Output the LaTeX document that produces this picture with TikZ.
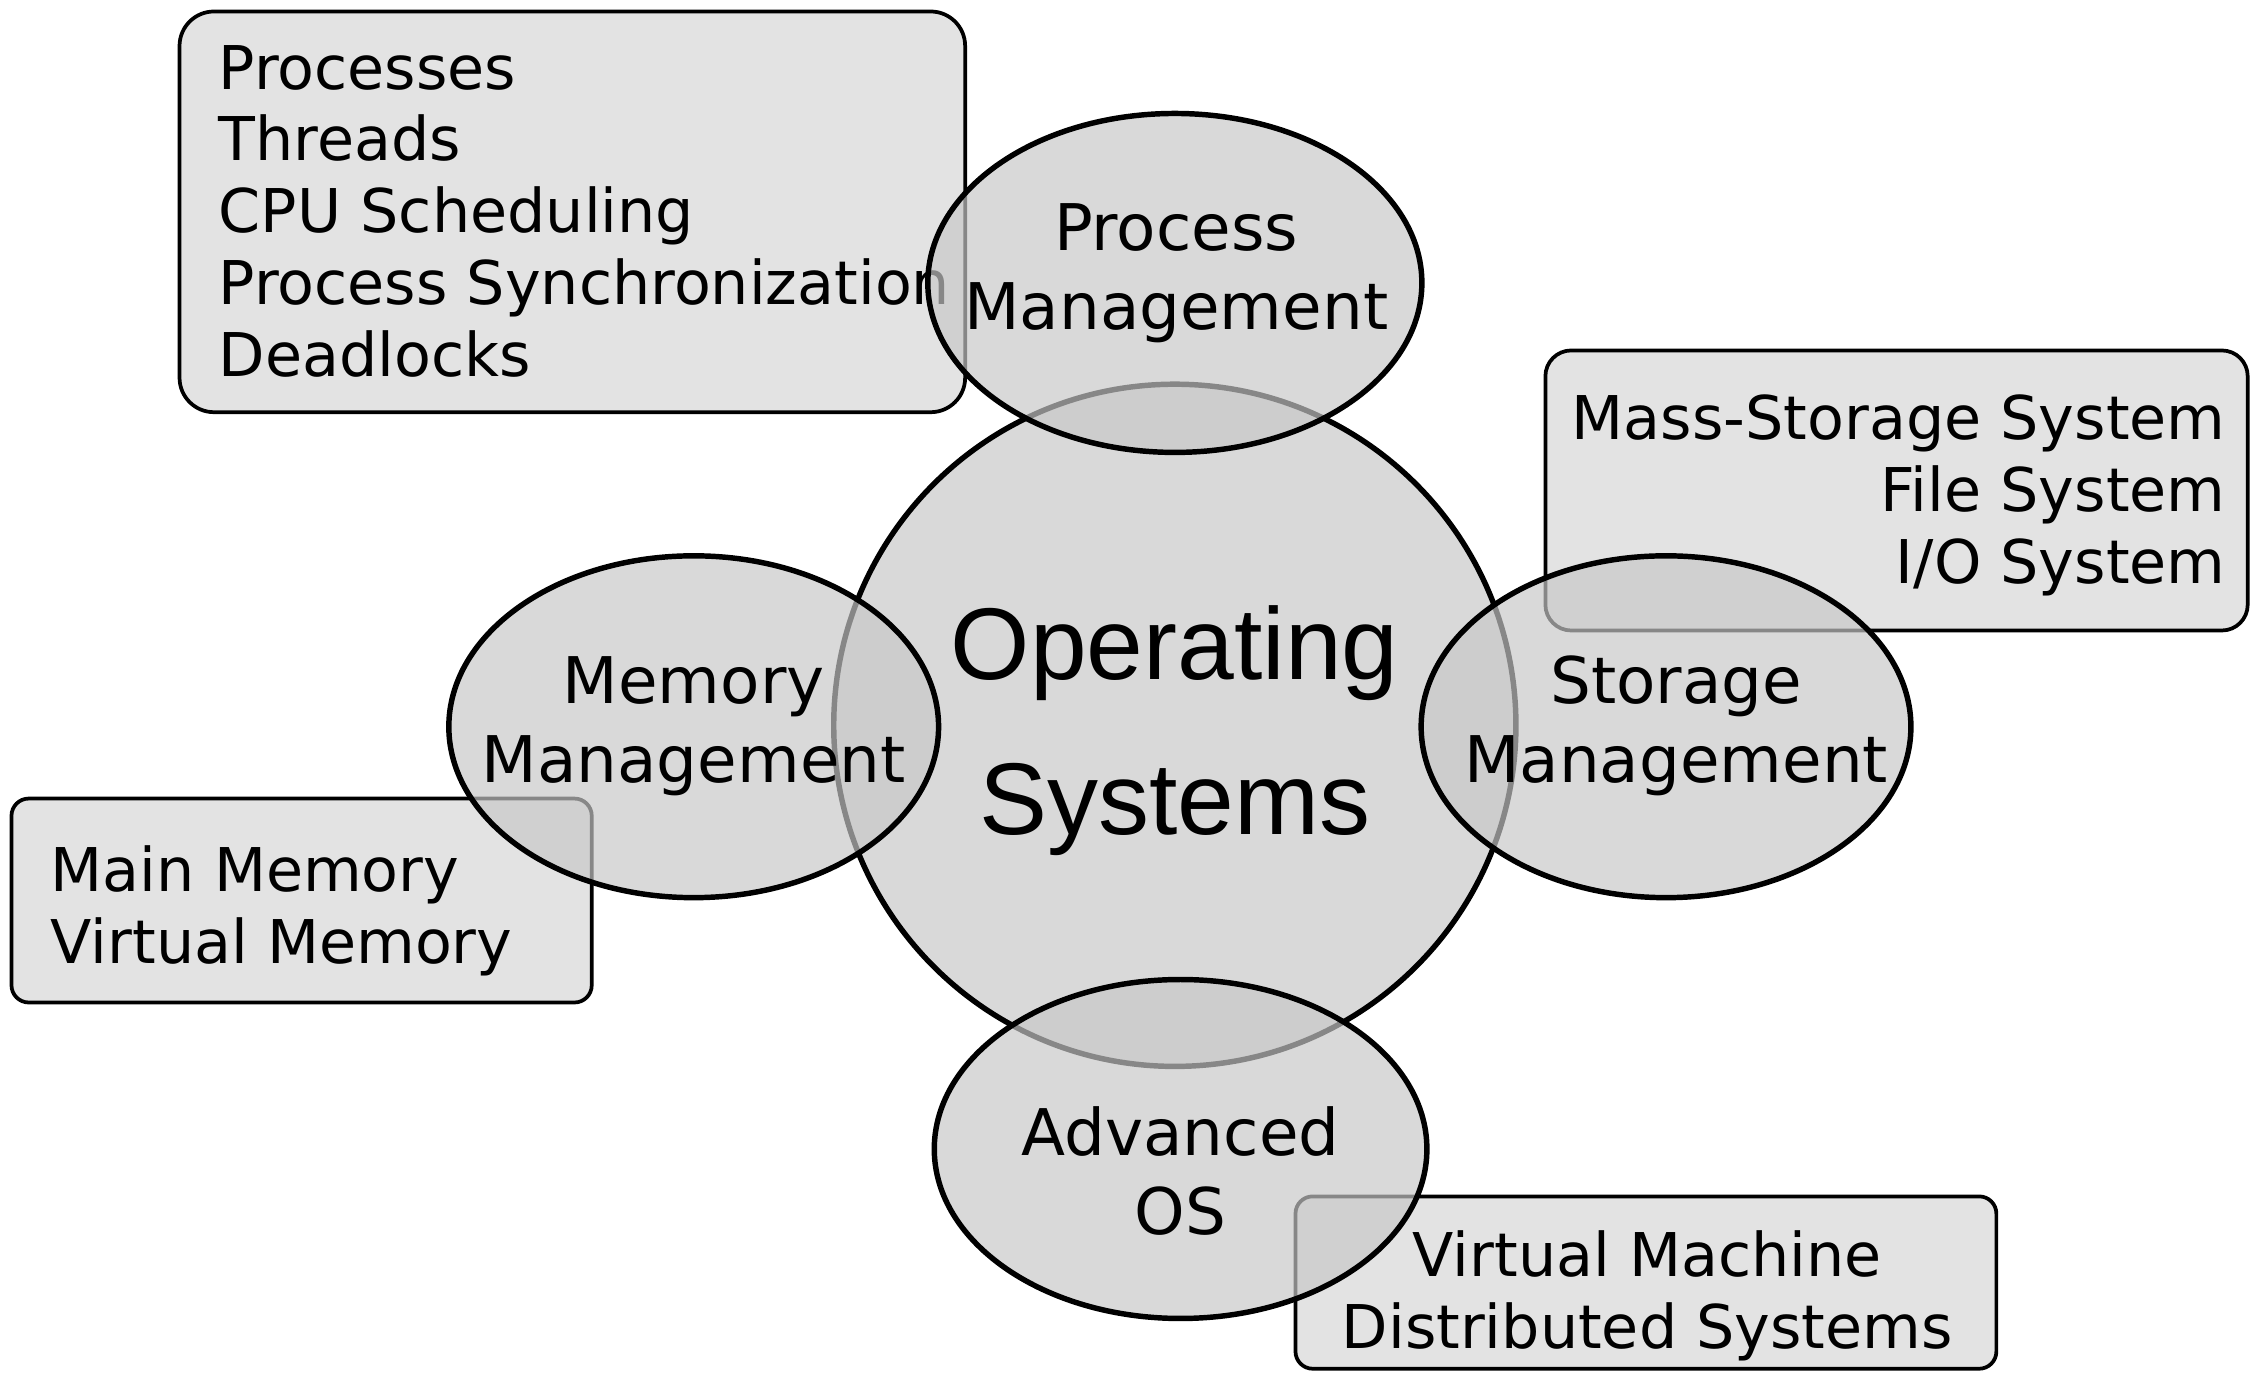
\documentclass[tikz,border=0pt]{standalone}
\usepackage{fontspec}
\setmainfont{DejaVu Sans}
\newfontfamily\arialfont{Liberation Sans}
\usepackage{tikz}
\usetikzlibrary{shapes.geometric}
\tikzset{every picture/.append style={x=0.5pt,y=-0.5pt}}
\tikzset{topic/.style={ellipse, draw=black, line width=1.9pt, fill=black!22, fill opacity=0.68, inner sep=0pt}}
\tikzset{core/.style={circle, draw=black, line width=1.9pt, fill=black!22, fill opacity=0.68, inner sep=0pt}}
\tikzset{infobox/.style={rectangle, rounded corners=#1, draw=black, line width=1.3pt, fill=black!11, inner sep=0pt}}
\tikzset{infobox/.default=6pt}
\tikzset{boxtext/.style={font=\fontsize{21}{25}\selectfont, inner sep=0pt}}
\tikzset{topictext/.style={font=\fontsize{22.4}{27.5}\selectfont, align=center, inner sep=0pt}}

\begin{document}
\begin{tikzpicture}
  \useasboundingbox (0,0) rectangle (1568,958);
  % boxes with the topics
  \node (pbox) at (398.5,147.5)[infobox=12pt, minimum width=273.5pt, minimum height=139.5pt]{};
  \node (ptext) at (152,147)[boxtext, anchor=west, align=left]{Processes\\Threads\\CPU Scheduling\\Process Synchronization\\Deadlocks};
  \node (sbox) at (1320.5,341.5)[infobox=9pt, minimum width=244.5pt, minimum height=97.5pt]{};
  \node (stext) at (1550,345)[boxtext, anchor=east, align=right]{Mass-Storage System\\File System\\I/O System};
  \node (mbox) at (210,627)[infobox, minimum width=202pt, minimum height=71pt]{};
  \node (mtext) at (35,634)[boxtext, anchor=west, align=left]{Main Memory\\Virtual Memory};
  \node (abox) at (1146,893)[infobox, minimum width=244pt, minimum height=60pt]{};
  \node (atext) at (1147,902)[boxtext, align=center]{Virtual Machine\\Distributed Systems};

  % the core and the four parts
  \node (os) at (818,505)[core, minimum size=237.5pt]{};
  \node (ostext) at (818,509)[font=\arialfont\fontsize{35.5}{54}\selectfont, align=center, inner sep=0pt]{Operating\\Systems};
  \node (pm) at (818,197)[topic, minimum width=172pt, minimum height=118pt]{};
  \node (mm) at (483,506)[topic, minimum width=170.5pt, minimum height=119pt]{};
  \node (sm) at (1160,506)[topic, minimum width=170.5pt, minimum height=119pt]{};
  \node (ao) at (822,800)[topic, minimum width=171.5pt, minimum height=118pt]{};
  \node (pmtext) at (819,190.5)[topictext]{Process\\Management};
  \node (mmtext) at (483,505.5)[topictext]{Memory\\Management};
  \node (smtext) at (1167,505.5)[topictext]{Storage\\Management};
  \node (aotext) at (822,815)[topictext]{Advanced\\OS};
\end{tikzpicture}
\end{document}
